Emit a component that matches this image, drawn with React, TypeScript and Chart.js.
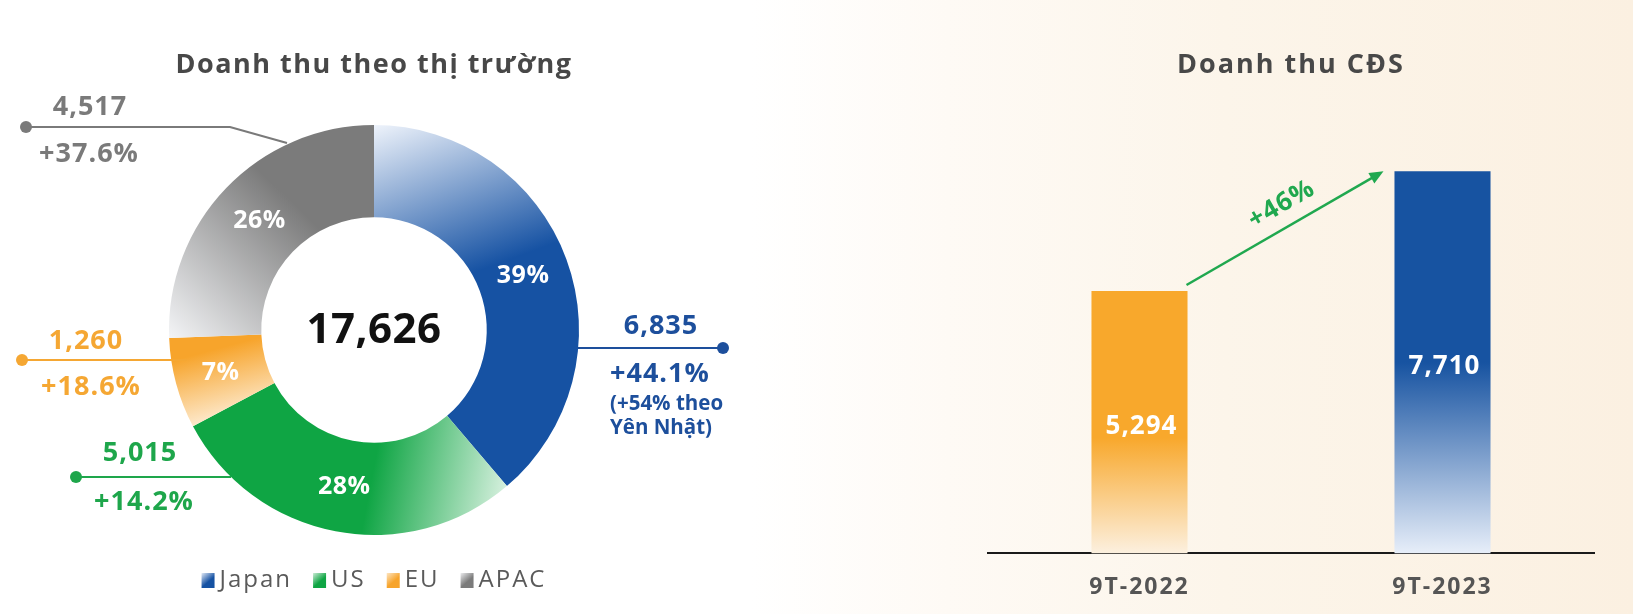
import React, { useEffect, useRef } from "react";
import { Chart, registerables } from "chart.js";

Chart.register(...registerables);

// ---------- data ----------
const marketTitle = "Doanh thu theo thị trường";
const marketLabels = ["Japan", "US", "EU", "APAC"];
const marketValues = [6835, 5015, 1260, 4517];
const marketValueLabels = ["6,835", "5,015", "1,260", "4,517"];
const marketShareLabels = ["39%", "28%", "7%", "26%"];
const marketGrowthLabels = ["+44.1%", "+14.2%", "+18.6%", "+37.6%"];
const marketTotalLabel = "17,626";
const japanNoteLines = ["(+54% theo", "Yên Nhật)"];

const cdsTitle = "Doanh thu CĐS";
const cdsLabels = ["9T-2022", "9T-2023"];
const cdsValues = [5294, 7710];
const cdsValueLabels = ["5,294", "7,710"];
const cdsGrowthLabel = "+46%";

// ---------- styles ----------
const FONT = '"Open Sans", sans-serif';
const marketColors = ["#1652a3", "#0fa544", "#f7a42b", "#7b7b7b"];
const marketLightColors = ["#eef3fb", "#d6f0de", "#fde9cc", "#f3f4f6"];
const marketSolidStops = [0.45, 0.42, 0.75, 0.62];
const marketTextColors = ["#1d4f9c", "#1ea64b", "#f5a733", "#7a7a7a"];
const cdsColors = ["#f8a82c", "#1753a1"];
const cdsLightColors = ["#fcf0df", "#e7eef9"];
const cdsSolidStops = [0.56, 0.5];

// callout layout: offsets from the donut centre
const callouts = [
  { line: [[204, 18], [349, 18]], dot: [349, 18], value: [287, -4, "center"], growth: [236, 44, "left"] },
  { line: [[-143, 147], [-298, 147]], dot: [-298, 147], value: [-234, 123, "center"], growth: [-230, 172, "center"] },
  { line: [[-187, 30], [-352, 30]], dot: [-352, 30], value: [-288, 11, "center"], growth: [-283, 57, "center"] },
  { line: [[-87, -187], [-144, -203], [-348, -203]], dot: [-348, -203], value: [-284, -223, "center"], growth: [-285, -176, "center"] },
];
const japanNoteOffset = { x: 236, ys: [74, 98] };

function arcGradient(c: any) {
  const chart = c.chart;
  const area = chart.chartArea;
  const i = c.dataIndex;
  if (!area) return marketColors[i];
  const cx = (area.left + area.right) / 2;
  const cy = (area.top + area.bottom) / 2;
  const R = Math.min(area.width, area.height) / 2;
  const total = marketValues.reduce((a, b) => a + b, 0);
  let before = 0;
  for (let k = 0; k < i; k++) before += marketValues[k];
  const a0 = -Math.PI / 2 + (before / total) * 2 * Math.PI;
  const a1 = a0 + (marketValues[i] / total) * 2 * Math.PI;
  const g = chart.ctx.createLinearGradient(
    cx + R * Math.cos(a0), cy + R * Math.sin(a0),
    cx + R * Math.cos(a1), cy + R * Math.sin(a1)
  );
  g.addColorStop(0, marketLightColors[i]);
  g.addColorStop(marketSolidStops[i], marketColors[i]);
  g.addColorStop(1, marketColors[i]);
  return g;
}

function barGradient(c: any) {
  const chart = c.chart;
  const i = c.dataIndex;
  const area = chart.chartArea;
  const y = chart.scales && chart.scales.y;
  if (!area || !y) return cdsColors[i];
  const top = y.getPixelForValue(cdsValues[i]);
  const bottom = y.getPixelForValue(0);
  const g = chart.ctx.createLinearGradient(0, top, 0, bottom);
  g.addColorStop(0, cdsColors[i]);
  g.addColorStop(cdsSolidStops[i], cdsColors[i]);
  g.addColorStop(1, cdsLightColors[i]);
  return g;
}

const makeSpacing = (px: string) => ({
  id: "spacing",
  beforeDraw(chart: any) {
    chart.ctx.letterSpacing = px;
  },
});

const donutDecor = {
  id: "donutDecor",
  afterDatasetsDraw(chart: any) {
    const ctx = chart.ctx;
    const arcs = chart.getDatasetMeta(0).data;
    const cx = arcs[0].x;
    const cy = arcs[0].y;
    ctx.save();
    ctx.textAlign = "center";
    ctx.textBaseline = "middle";
    // percentages
    ctx.letterSpacing = "0.5px";
    ctx.font = `bold 25px ${FONT}`;
    ctx.fillStyle = "#ffffff";
    arcs.forEach((a: any, i: number) => {
      const p = a.tooltipPosition(true);
      ctx.fillText(marketShareLabels[i], p.x, p.y + 1);
    });
    // total
    ctx.font = `bold 42px ${FONT}`;
    ctx.fillStyle = "#111111";
    ctx.fillText(marketTotalLabel, cx, cy + 1);
    // callouts
    callouts.forEach((c, i) => {
      const col = marketTextColors[i];
      ctx.strokeStyle = col;
      ctx.fillStyle = col;
      ctx.lineWidth = 2.2;
      ctx.beginPath();
      c.line.forEach(([dx, dy], k) => (k ? ctx.lineTo(cx + dx, cy + dy) : ctx.moveTo(cx + dx, cy + dy)));
      ctx.stroke();
      ctx.beginPath();
      ctx.arc(cx + c.dot[0], cy + c.dot[1], 6, 0, Math.PI * 2);
      ctx.fill();
      ctx.font = `bold 27px ${FONT}`;
      ctx.letterSpacing = "1px";
      ctx.textAlign = c.value[2] as CanvasTextAlign;
      ctx.fillText(marketValueLabels[i], cx + (c.value[0] as number), cy + (c.value[1] as number));
      ctx.textAlign = c.growth[2] as CanvasTextAlign;
      ctx.fillText(marketGrowthLabels[i], cx + (c.growth[0] as number), cy + (c.growth[1] as number));
    });
    // Japan note
    ctx.fillStyle = marketTextColors[0];
    ctx.font = `bold 20.5px ${FONT}`;
    ctx.letterSpacing = "0px";
    ctx.textAlign = "left";
    japanNoteLines.forEach((t, k) => ctx.fillText(t, cx + japanNoteOffset.x, cy + japanNoteOffset.ys[k]));
    // legend
    ctx.font = `24px ${FONT}`;
    ctx.letterSpacing = "2px";
    const box = 13, gapIn = 5, gapOut = 21;
    const widths = marketLabels.map((t) => ctx.measureText(t).width);
    const total = widths.reduce((s, w) => s + box + gapIn + w, 0) + gapOut * (marketLabels.length - 1);
    let x = cx - total / 2;
    const ly = chart.chartArea.bottom + 45;
    marketLabels.forEach((t, i) => {
      const g = ctx.createLinearGradient(x, ly - 8, x + box, ly + 7);
      g.addColorStop(0, marketLightColors[i]);
      g.addColorStop(0.6, marketColors[i]);
      g.addColorStop(1, marketColors[i]);
      ctx.fillStyle = g;
      ctx.fillRect(x, ly - 7, box, 15);
      x += box + gapIn;
      ctx.fillStyle = "#5a5a5a";
      ctx.fillText(t, x, ly);
      x += widths[i] + gapOut;
    });
    ctx.restore();
  },
};

const barDecor = {
  id: "barDecor",
  afterDatasetsDraw(chart: any) {
    const ctx = chart.ctx;
    const bars = chart.getDatasetMeta(0).data;
    ctx.save();
    ctx.textAlign = "center";
    ctx.textBaseline = "middle";
    ctx.font = `bold 26px ${FONT}`;
    ctx.letterSpacing = "1px";
    ctx.fillStyle = "#ffffff";
    bars.forEach((b: any, i: number) => {
      const p = b.getProps(["x", "y", "base"], true);
      ctx.fillText(cdsValueLabels[i], p.x + 2, (p.y + p.base) / 2 + 4);
    });
    // growth arrow
    const b0 = bars[0].getProps(["x", "y", "width"], true);
    const b1 = bars[1].getProps(["x", "y", "width"], true);
    const sx = b0.x + b0.width / 2 - 1, sy = b0.y - 6;
    const ex = b1.x - b1.width / 2 - 11, ey = b1.y;
    const dx = ex - sx, dy = ey - sy;
    const len = Math.hypot(dx, dy);
    const ux = dx / len, uy = dy / len;
    const head = 14, hw = 6;
    const green = "#20a84f";
    ctx.strokeStyle = green;
    ctx.fillStyle = green;
    ctx.lineWidth = 2.5;
    ctx.beginPath();
    ctx.moveTo(sx, sy);
    ctx.lineTo(ex - ux * head * 0.8, ey - uy * head * 0.8);
    ctx.stroke();
    ctx.beginPath();
    ctx.moveTo(ex, ey);
    ctx.lineTo(ex - ux * head - uy * hw, ey - uy * head + ux * hw);
    ctx.lineTo(ex - ux * head + uy * hw, ey - uy * head - ux * hw);
    ctx.closePath();
    ctx.fill();
    // label along the arrow
    const nx = uy, ny = -ux; // normal pointing up-left
    const mx = (sx + ex) / 2 + ux * 9 + nx * 22;
    const my = (sy + ey) / 2 + uy * 9 + ny * 22;
    ctx.translate(mx, my);
    ctx.rotate(Math.atan2(dy, dx));
    ctx.font = `bold 26px ${FONT}`;
    ctx.letterSpacing = "1px";
    ctx.fillText(cdsGrowthLabel, 0, 0);
    ctx.restore();
  },
};

function DonutChart() {
  const ref = useRef<HTMLCanvasElement>(null);
  useEffect(() => {
    const chart = new Chart(ref.current!, {
      type: "doughnut",
      data: {
        labels: marketLabels,
        datasets: [
          {
            data: marketValues,
            backgroundColor: arcGradient as any,
            borderWidth: 0,
            hoverBorderWidth: 0,
            hoverOffset: 0,
          },
        ],
      },
      options: {
        responsive: false,
        animation: false,
        events: [],
        cutout: "55%",
        layout: { padding: { left: 169, right: 181, top: 0, bottom: 79 } },
        plugins: {
          legend: { display: false },
          tooltip: { enabled: false },
          title: {
            display: true,
            text: marketTitle,
            color: "#484848",
            font: { family: FONT, size: 27, weight: "bold" },
            padding: { top: 49, bottom: 43.6 },
          },
        },
      },
      plugins: [makeSpacing("1.5px"), donutDecor],
    });
    return () => chart.destroy();
  }, []);
  return <canvas ref={ref} width={760} height={614} style={{ position: "absolute", left: 0, top: 0, width: 760, height: 614 }} />;
}

function BarChart() {
  const ref = useRef<HTMLCanvasElement>(null);
  useEffect(() => {
    const chart = new Chart(ref.current!, {
      type: "bar",
      data: {
        labels: cdsLabels,
        datasets: [
          {
            data: cdsValues,
            backgroundColor: barGradient as any,
            borderWidth: 0,
            barPercentage: 0.317,
            categoryPercentage: 1,
          },
        ],
      },
      options: {
        responsive: false,
        animation: false,
        events: [],
        layout: { padding: { left: 228, right: 39, top: 0, bottom: 19 } },
        scales: {
          x: {
            grid: { display: false, drawTicks: false },
            border: { display: true, color: "#1a1a1a", width: 2 },
            ticks: { padding: 20, color: "#555555", font: { family: FONT, size: 23, weight: "bold" } },
          },
          y: { display: false, min: 0, max: 9000 },
        },
        plugins: {
          legend: { display: false },
          tooltip: { enabled: false },
          title: {
            display: true,
            text: cdsTitle,
            color: "#484848",
            font: { family: FONT, size: 27, weight: "bold" },
            padding: { top: 49, bottom: 25.9 },
          },
        },
      },
      plugins: [makeSpacing("2px"), barDecor],
    });
    return () => chart.destroy();
  }, []);
  return <canvas ref={ref} width={873} height={640} style={{ position: "absolute", left: 760, top: 0, width: 873, height: 640 }} />;
}

export default function App() {
  return (
    <div
      style={{
        position: "fixed",
        left: 0,
        top: 0,
        width: 1633,
        height: 614,
        overflow: "hidden",
        background:
          "linear-gradient(90deg, #ffffff 0%, #ffffff 46%, #fefaf5 58%, #fcf5ea 75%, #fbf0e1 100%)",
      }}
    >
      <DonutChart />
      <BarChart />
    </div>
  );
}
